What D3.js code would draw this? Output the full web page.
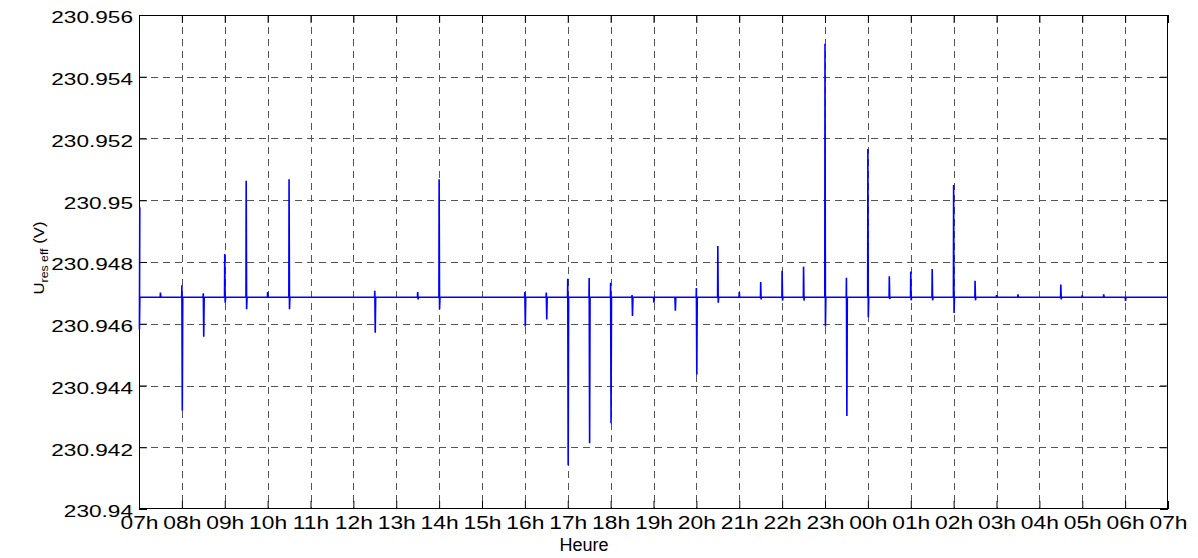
<!DOCTYPE html>
<html>
<head>
<meta charset="utf-8">
<script src="https://cdn.jsdelivr.net/npm/d3@7"></script>
<style>
  html, body { margin: 0; padding: 0; background: #fff; }
  svg { display: block; font-family: "Liberation Sans", Arial, Helvetica, sans-serif; }
</style>
</head>
<body>
<svg id="chart" width="1198" height="558"></svg>
<script>
// ---- data ----
const xTickHours = [7,8,9,10,11,12,13,14,15,16,17,18,19,20,21,22,23,24,25,26,27,28,29,30,31];
const xTickLabels = ["07h","08h","09h","10h","11h","12h","13h","14h","15h","16h","17h","18h","19h","20h","21h","22h","23h","00h","01h","02h","03h","04h","05h","06h","07h"];
const yTicks = [230.94,230.942,230.944,230.946,230.948,230.95,230.952,230.954,230.956];
const yTickLabels = ["230.94","230.942","230.944","230.946","230.948","230.95","230.952","230.954","230.956"];

const baseline = 230.94686;
// events (hours since midnight of day 1, >24 = next day)
const eventTimes = [7,7.5,8,8.5,9,9.5,10,10.5,12.5,13.5,14,16,16.5,17,17.5,18,18.5,19,19.5,20,20.5,21,21.5,22,22.5,23,23.5,24,24.5,25,25.5,26,26.5,27,27.5,28.5,29,29.5,30];
const eventHigh = [230.94977,230.94701,230.94725,230.94699,230.94826,230.95063,230.94703,230.95068,230.94707,230.94703,230.95068,230.94703,230.94701,230.94746,230.94748,230.94733,230.94693,230.94686,230.94686,230.94716,230.94852,230.94703,230.94735,230.94772,230.94785,230.95507,230.94749,230.95166,230.94754,230.94769,230.94777,230.95049,230.94739,230.94693,230.94695,230.94727,230.94693,230.94695,230.94686];
const eventLow = [230.94582,230.94686,230.94318,230.94558,230.94668,230.94647,230.94686,230.94647,230.94571,230.94679,230.94647,230.94591,230.94614,230.94142,230.94213,230.94278,230.94625,230.94668,230.94642,230.94435,230.94668,230.94686,230.94679,230.94675,230.94675,230.94591,230.94301,230.94621,230.94680,230.94676,230.94676,230.94635,230.94676,230.94686,230.94686,230.94679,230.94686,230.94686,230.94674];

// ---- layout ----
const L = 139, R = 1168, T = 15, B = 509;
const svg = d3.select("#chart");
const x = d3.scaleLinear().domain([7,31]).range([L,R]);
const y = d3.scaleLinear().domain([230.94,230.956]).range([B,T]);

// grid
const grid = svg.append("g").attr("stroke","#555").attr("stroke-width",1).attr("stroke-dasharray","7,5").attr("shape-rendering","crispEdges");
grid.selectAll("line.v").data(xTickHours.slice(1,-1)).enter().append("line")
  .attr("x1",d=>Math.round(x(d))+0.5).attr("x2",d=>Math.round(x(d))+0.5)
  .attr("y1",T).attr("y2",B);
grid.selectAll("line.h").data(yTicks.slice(1,-1)).enter().append("line")
  .attr("y1",d=>Math.round(y(d))+0.5).attr("y2",d=>Math.round(y(d))+0.5)
  .attr("x1",L).attr("x2",R);

// axes
const ySX = 1.33, xSX = 1.2;
const gl = svg.append("g").attr("transform",`translate(${L},0)`)
  .call(d3.axisLeft(y).tickValues(yTicks).tickFormat((d,i)=>yTickLabels[i]).tickSizeInner(-8).tickSizeOuter(0).tickPadding(6));
gl.selectAll("text").attr("font-size",17).attr("fill","#000").attr("font-family","Liberation Sans, Arial, sans-serif")
  .attr("transform",`scale(${ySX},1)`).attr("x",-6/ySX).attr("dy","0.46em");
const gr = svg.append("g").attr("transform",`translate(${R},0)`)
  .call(d3.axisRight(y).tickValues(yTicks).tickFormat("").tickSizeInner(-8).tickSizeOuter(0));
const gb = svg.append("g").attr("transform",`translate(0,${B})`)
  .call(d3.axisBottom(x).tickValues(xTickHours).tickFormat((d,i)=>xTickLabels[i]).tickSizeInner(-8).tickSizeOuter(0).tickPadding(7));
gb.selectAll("text").attr("font-size",19).attr("fill","#000").attr("font-family","Liberation Sans, Arial, sans-serif")
  .attr("transform",`scale(${xSX},1)`);
const gt = svg.append("g").attr("transform",`translate(0,${T})`)
  .call(d3.axisTop(x).tickValues(xTickHours).tickFormat("").tickSizeInner(-8).tickSizeOuter(0));
[gl,gr,gb,gt].forEach(g=>{ g.select(".domain").remove(); g.selectAll("line").attr("stroke","#000"); });

// box
svg.append("rect").attr("x",L+0.5).attr("y",T+0.5).attr("width",R-L-1).attr("height",B-T-1)
  .attr("fill","none").attr("stroke","#000").attr("stroke-width",1).attr("shape-rendering","crispEdges");

// series path (drawn over the box, like the reference)
const pts = [];
eventTimes.forEach((t,i)=>{
  if (i>0) pts.push([t-0.005, baseline]);
  pts.push([t, eventHigh[i]]);
  pts.push([t+0.01, eventLow[i]]);
  pts.push([t+0.02, baseline]);
});
pts.push([31, baseline]);

svg.append("clipPath").attr("id","clip").append("rect").attr("x",L-1).attr("y",T).attr("width",R-L+1).attr("height",B-T);
svg.append("path").datum(pts)
  .attr("clip-path","url(#clip)")
  .attr("fill","none").attr("stroke","#0000ff").attr("stroke-width",1.6)
  .attr("d", d3.line().x(d=>x(d[0]) + (d[0]===7 ? 0.8 : 0)).y(d=>y(d[1])));

// labels
svg.append("text").attr("x",584).attr("y",551).attr("text-anchor","middle")
  .attr("font-size",18).attr("fill","#000").text("Heure");
const yl = svg.append("text").attr("transform","translate(44,258) rotate(-90) scale(1.12,1)").attr("text-anchor","middle")
  .attr("font-size",15).attr("fill","#000");
yl.append("tspan").text("U");
yl.append("tspan").attr("font-size",11).attr("dy",4).text("res eff");
yl.append("tspan").attr("dy",-4).text(" (V)");
</script>
</body>
</html>
